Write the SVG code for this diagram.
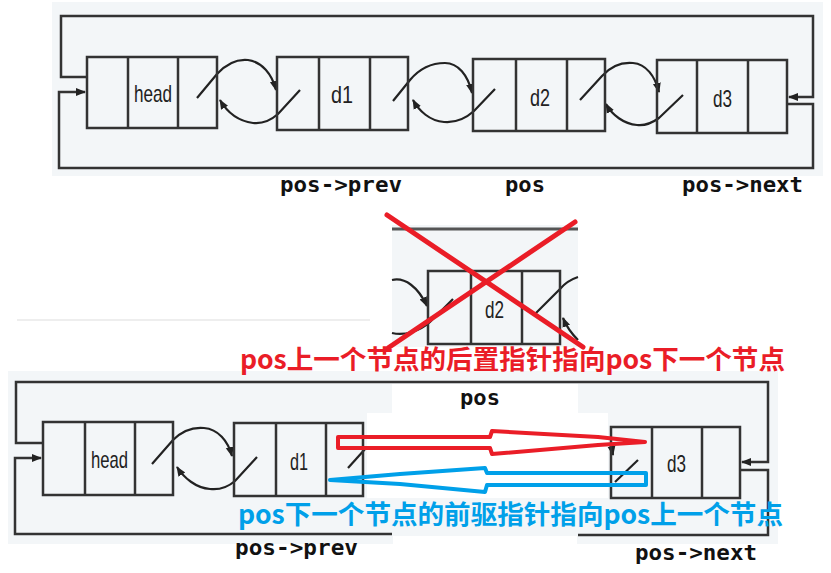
<svg xmlns="http://www.w3.org/2000/svg" width="831" height="573" viewBox="0 0 831 573">
<defs>
<style>
.panel{fill:#f3f6f8}
.white{fill:#ffffff}
.box{fill:none;stroke:#333;stroke-width:2.5}
.ln{fill:none;stroke:#333;stroke-width:2.5}
.cv{fill:none;stroke:#222;stroke-width:2.2}
.lbl{font-family:"Liberation Sans",Arial,sans-serif;font-size:24px;fill:#222}
.code{font-family:"DejaVu Sans Mono","Liberation Mono",monospace;font-weight:bold;font-size:21px;fill:#111}
.cn{font-family:"Noto Sans CJK SC","Noto Sans",sans-serif;font-weight:bold;font-size:26px}
.redx{stroke:#ea1d27;stroke-width:5;stroke-linecap:round}
</style>
<marker id="ah" viewBox="0 0 10 10" refX="9" refY="5" markerWidth="10" markerHeight="10" markerUnits="userSpaceOnUse" orient="auto">
<path d="M0,1 L10,5 L0,9 Z" fill="#222"/>
</marker>
</defs>

<g id="backgrounds">
<rect class="panel" x="52" y="2" width="771" height="174"/>
<rect class="panel" x="392" y="225" width="186" height="122"/>
<line x1="17" y1="320" x2="370" y2="320" stroke="#eeeeee" stroke-width="2"/>
<rect class="panel" x="8" y="371" width="770" height="173"/>
<rect class="white" x="392" y="384" width="186" height="29"/>
<rect class="white" x="367" y="413" width="241" height="85"/>
<rect class="white" x="393" y="536" width="184" height="37"/>
</g>

<g id="connectors">
<path class="ln" d="M87,77 H61 V16 H813 V97 H789" marker-end="url(#ah)"/>
<path class="ln" d="M787,104 H813 V168 H59 V92 H85" marker-end="url(#ah)"/>
<path class="cv" d="M197,98 L217,74 C228,62 238,59 248,60 C262,62 272,74 276,90" marker-end="url(#ah)"/>
<path class="cv" d="M300,90 L278,114 C270,121 262,124 253,123 C238,121 227,112 220,100" marker-end="url(#ah)"/>
<path class="cv" d="M393,101 L410,80 C420,68 432,63 445,63 C458,63 468,75 472,93" marker-end="url(#ah)"/>
<path class="cv" d="M495,89 L474,111 C465,119 455,123 444,122 C430,121 419,111 413,100" marker-end="url(#ah)"/>
<path class="cv" d="M580,100 L602,76 C611,66 622,62 633,63 C646,64 655,76 659,92" marker-end="url(#ah)"/>
<path class="cv" d="M683,95 L659,118 C652,123 645,126 637,125 C624,124 612,115 606,104" marker-end="url(#ah)"/>
<line x1="392" y1="229" x2="578" y2="229" stroke="#555" stroke-width="3"/>
<path class="cv" d="M392,280 C405,277 418,287 427,306" marker-end="url(#ah)"/>
<path class="cv" d="M453,299 L430,322 C420,331 405,336 392,333"/>
<path class="cv" d="M535,314 L560,289 C565,283 572,279 578,277"/>
<path class="cv" d="M578,340 C572,334 567,328 563,318" marker-end="url(#ah)"/>
<path class="ln" d="M43,443 H16 V382 H768 V462 H742" marker-end="url(#ah)"/>
<path class="ln" d="M740,470 H768 V535 H578"/>
<path class="ln" d="M392,534 H15 V458 H41" marker-end="url(#ah)"/>
<path class="cv" d="M152,464 L173,440 C182,431 193,427 204,428 C218,429 228,441 232,456" marker-end="url(#ah)"/>
<path class="cv" d="M257,457 L235,481 C228,487 219,490 210,489 C196,488 184,478 177,467" marker-end="url(#ah)"/>
<path class="cv" d="M348,468 L366,448"/>
<path class="cv" d="M615,482 L638,460"/>
<path class="cv" d="M611,444 L613,455" marker-end="url(#ah)"/>
</g>

<g id="node-head-top">
<rect class="box" x="87" y="57" width="130" height="71"/>
<line class="box" x1="128" y1="57" x2="128" y2="128"/>
<line class="box" x1="178" y1="57" x2="178" y2="128"/>
<text class="lbl" x="134" y="102" textLength="38" lengthAdjust="spacingAndGlyphs">head</text>
</g>
<g id="node-d1-top">
<rect class="box" x="277" y="57" width="131" height="73"/>
<line class="box" x1="319" y1="57" x2="319" y2="130"/>
<line class="box" x1="370" y1="57" x2="370" y2="130"/>
<text class="lbl" x="331" y="103" textLength="22" lengthAdjust="spacingAndGlyphs">d1</text>
</g>
<g id="node-d2-top">
<rect class="box" x="473" y="59" width="132" height="72"/>
<line class="box" x1="516" y1="59" x2="516" y2="131"/>
<line class="box" x1="567" y1="59" x2="567" y2="131"/>
<text class="lbl" x="530" y="106" textLength="20" lengthAdjust="spacingAndGlyphs">d2</text>
</g>
<g id="node-d3-top">
<rect class="box" x="657" y="60" width="130" height="73"/>
<line class="box" x1="697" y1="60" x2="697" y2="133"/>
<line class="box" x1="748" y1="60" x2="748" y2="133"/>
<text class="lbl" x="713" y="107" textLength="19" lengthAdjust="spacingAndGlyphs">d3</text>
</g>

<g id="node-d2-removed">
<rect class="box" x="428" y="271" width="132" height="73"/>
<line class="box" x1="471" y1="271" x2="471" y2="344"/>
<line class="box" x1="522" y1="271" x2="522" y2="344"/>
<text class="lbl" x="485" y="318" textLength="19" lengthAdjust="spacingAndGlyphs">d2</text>
</g>
<g id="cross">
<line class="redx" x1="387" y1="215" x2="583" y2="347"/>
<line class="redx" x1="575" y1="222" x2="388" y2="348"/>
</g>

<g id="node-head-bottom">
<rect class="box" x="43" y="422" width="130" height="73"/>
<line class="box" x1="85" y1="422" x2="85" y2="495"/>
<line class="box" x1="135" y1="422" x2="135" y2="495"/>
<text class="lbl" x="91" y="468" textLength="37" lengthAdjust="spacingAndGlyphs">head</text>
</g>
<g id="node-d1-bottom">
<rect class="box" x="234" y="423" width="129" height="73"/>
<line class="box" x1="276" y1="423" x2="276" y2="496"/>
<line class="box" x1="326" y1="423" x2="326" y2="496"/>
<text class="lbl" x="290" y="470" textLength="18" lengthAdjust="spacingAndGlyphs">d1</text>
</g>
<g id="node-d3-bottom">
<rect class="box" x="611" y="427" width="129" height="71"/>
<line class="box" x1="652" y1="427" x2="652" y2="498"/>
<line class="box" x1="702" y1="427" x2="702" y2="498"/>
<text class="lbl" x="667" y="472" textLength="19" lengthAdjust="spacingAndGlyphs">d3</text>
</g>

<g id="new-links">
<path d="M338,437 L490,437 L492,431 L598,437 L645,442 L598,445 L492,454 L490,448 L338,448 Z" fill="none" stroke="#ea1d27" stroke-width="4" stroke-linejoin="round"/>
<path d="M646,473 L487,473 L485,468 L400,474 L330,480 L400,484 L485,492 L487,485 L646,485 Z" fill="none" stroke="#00a0e9" stroke-width="4" stroke-linejoin="round"/>
</g>

<g id="labels">
<text class="code" x="280" y="192" textLength="122" lengthAdjust="spacingAndGlyphs">pos-&gt;prev</text>
<text class="code" x="505" y="192" textLength="40" lengthAdjust="spacingAndGlyphs">pos</text>
<text class="code" x="682" y="192" textLength="121" lengthAdjust="spacingAndGlyphs">pos-&gt;next</text>
<text class="cn" x="240" y="369" fill="#ea1d27" textLength="545" lengthAdjust="spacingAndGlyphs">pos上一个节点的后置指针指向pos下一个节点</text>
<text class="code" x="460" y="405" textLength="40" lengthAdjust="spacingAndGlyphs">pos</text>
<text class="cn" x="238" y="524" fill="#00a0e9" textLength="545" lengthAdjust="spacingAndGlyphs">pos下一个节点的前驱指针指向pos上一个节点</text>
<text class="code" x="235" y="555" textLength="123" lengthAdjust="spacingAndGlyphs">pos-&gt;prev</text>
<text class="code" x="635" y="560" textLength="122" lengthAdjust="spacingAndGlyphs">pos-&gt;next</text>
</g>
</svg>
